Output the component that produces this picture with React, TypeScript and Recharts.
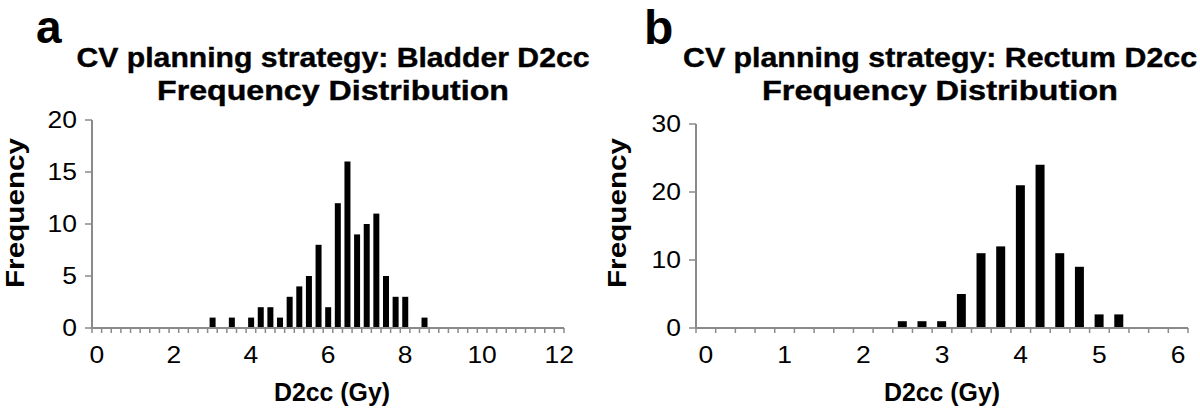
import React from 'react';
import { BarChart, Bar, XAxis, YAxis } from 'recharts';

// bladder D2cc histogram (bin centres in Gy, counts)
const BINS_A = [3.0, 3.5, 4.0, 4.25, 4.5, 4.75, 5.0, 5.25, 5.5, 5.75, 6.0, 6.25, 6.5, 6.75, 7.0, 7.25, 7.5, 7.75, 8.0, 8.5];
const FREQ_A = [1, 1, 1, 2, 2, 1, 3, 4, 5, 8, 2, 12, 16, 9, 10, 11, 5, 3, 3, 1];

// rectum D2cc histogram
const BINS_B = [2.5, 2.75, 3.0, 3.25, 3.5, 3.75, 4.0, 4.25, 4.5, 4.75, 5.0, 5.25];
const FREQ_B = [1, 1, 1, 5, 11, 12, 21, 24, 11, 9, 2, 2];

const X_LABELS_A = [0, 2, 4, 6, 8, 10, 12];
const X_LABELS_B = [0, 1, 2, 3, 4, 5, 6];
const Y_TICKS_A = [0, 5, 10, 15, 20];
const Y_TICKS_B = [0, 10, 20, 30];

const BIN_WIDTH = 0.25;
const AXIS = '#8a8a8a';
const FONT = '"Liberation Sans", Arial, Helvetica, sans-serif';

const toRows = (bins: number[], freq: number[]) => bins.map((b, i) => ({ bin: b, freq: freq[i] }));

// bin edges, where the small tick marks sit
const edgesFor = (max: number) => {
    const out: number[] = [];
    for (let i = 0; -BIN_WIDTH / 2 + i * BIN_WIDTH <= max + BIN_WIDTH / 2 + 1e-9; i++) {
        out.push(-BIN_WIDTH / 2 + i * BIN_WIDTH);
    }
    return out;
};

const isEdge = (v: number) => Math.abs(((v + BIN_WIDTH / 2) / BIN_WIDTH) - Math.round((v + BIN_WIDTH / 2) / BIN_WIDTH)) < 1e-6;

const XTick = ({ x, y, payload, labels }: any) => {
    const v = payload.value;
    return (
        <g>
            {isEdge(v) && <line x1={x} x2={x} y1={y} y2={y + 5} stroke={AXIS} strokeWidth={1.5} />}
            {labels.includes(v) && (
                <text transform={`translate(${x},${y + 35}) scale(1.15,1)`} textAnchor="middle"
                    fontSize={23} fontFamily={FONT} fill="#000">{v}</text>
            )}
        </g>
    );
};

const YTick = ({ x, y, payload }: any) => (
    <text transform={`translate(${x},${y + 8}) scale(1.15,1)`} textAnchor="end"
        fontSize={23} fontFamily={FONT} fill="#000">{payload.value}</text>
);

interface PanelProps {
    rows: { bin: number; freq: number }[];
    xMax: number;
    xLabels: number[];
    yTicks: number[];
    barSize: number;
    margin: { top: number; right: number; bottom: number; left: number };
}

const Panel: React.FC<PanelProps> = ({ rows, xMax, xLabels, yTicks, barSize, margin }) => {
    const ticks = [...edgesFor(xMax), ...xLabels].sort((a, b) => a - b);
    return (
        <BarChart width={600} height={412} data={rows} margin={margin}>
            <XAxis type="number" dataKey="bin" domain={[-BIN_WIDTH / 2, xMax + BIN_WIDTH / 2]}
                ticks={ticks} interval={0} allowDataOverflow tickLine={false} tickSize={0} tickMargin={0}
                axisLine={{ stroke: AXIS, strokeWidth: 2 }}
                tick={(p: any) => <XTick {...p} labels={xLabels} />} />
            <YAxis domain={[0, yTicks[yTicks.length - 1]]} ticks={yTicks} interval={0}
                tickSize={7} tickMargin={8} tickLine={{ stroke: AXIS, strokeWidth: 1.5 }}
                axisLine={{ stroke: AXIS, strokeWidth: 2 }} tick={<YTick />} />
            <Bar dataKey="freq" fill="#000" barSize={barSize} isAnimationActive={false} />
        </BarChart>
    );
};

export default function App() {
    return (
        <div style={{ position: 'absolute', left: 0, top: 0, width: 1200, height: 412, background: '#fff', overflow: 'hidden' }}>
            <div style={{ position: 'absolute', left: 0, top: 0 }}>
                <Panel rows={toRows(BINS_A, FREQ_A)} xMax={12} xLabels={X_LABELS_A} yTicks={Y_TICKS_A}
                    barSize={6} margin={{ top: 120, right: 36, bottom: 54, left: 32 }} />
            </div>
            <div style={{ position: 'absolute', left: 600, top: 0 }}>
                <Panel rows={toRows(BINS_B, FREQ_B)} xMax={6} xLabels={X_LABELS_B} yTicks={Y_TICKS_B}
                    barSize={9} margin={{ top: 124, right: 12, bottom: 54, left: 36 }} />
            </div>
            <svg width={1200} height={412} style={{ position: 'absolute', left: 0, top: 0, pointerEvents: 'none' }}
                fontFamily={FONT} fontWeight="bold" fill="#000">
                <text x={36} y={43} fontSize={46}>a</text>
                <text x={644} y={44} fontSize={48}>b</text>

                <g stroke="#000" strokeWidth={0.4}>
                    <text x={333} y={67} fontSize={27} textAnchor="middle" textLength={513} lengthAdjust="spacingAndGlyphs">CV planning strategy: Bladder D2cc</text>
                    <text x={333} y={100} fontSize={27} textAnchor="middle" textLength={352} lengthAdjust="spacingAndGlyphs">Frequency Distribution</text>
                    <text x={940} y={67} fontSize={27} textAnchor="middle" textLength={514} lengthAdjust="spacingAndGlyphs">CV planning strategy: Rectum D2cc</text>
                    <text x={940} y={100} fontSize={27} textAnchor="middle" textLength={356} lengthAdjust="spacingAndGlyphs">Frequency Distribution</text>
                </g>

                <text transform="translate(24,213) rotate(-90)" fontSize={25} textAnchor="middle" textLength={150} lengthAdjust="spacingAndGlyphs">Frequency</text>
                <text transform="translate(626,213) rotate(-90)" fontSize={25} textAnchor="middle" textLength={150} lengthAdjust="spacingAndGlyphs">Frequency</text>

                <text x={332} y={401} fontSize={25} textAnchor="middle" textLength={116} lengthAdjust="spacingAndGlyphs">D2cc (Gy)</text>
                <text x={942} y={401} fontSize={25} textAnchor="middle" textLength={116} lengthAdjust="spacingAndGlyphs">D2cc (Gy)</text>
            </svg>
        </div>
    );
}
